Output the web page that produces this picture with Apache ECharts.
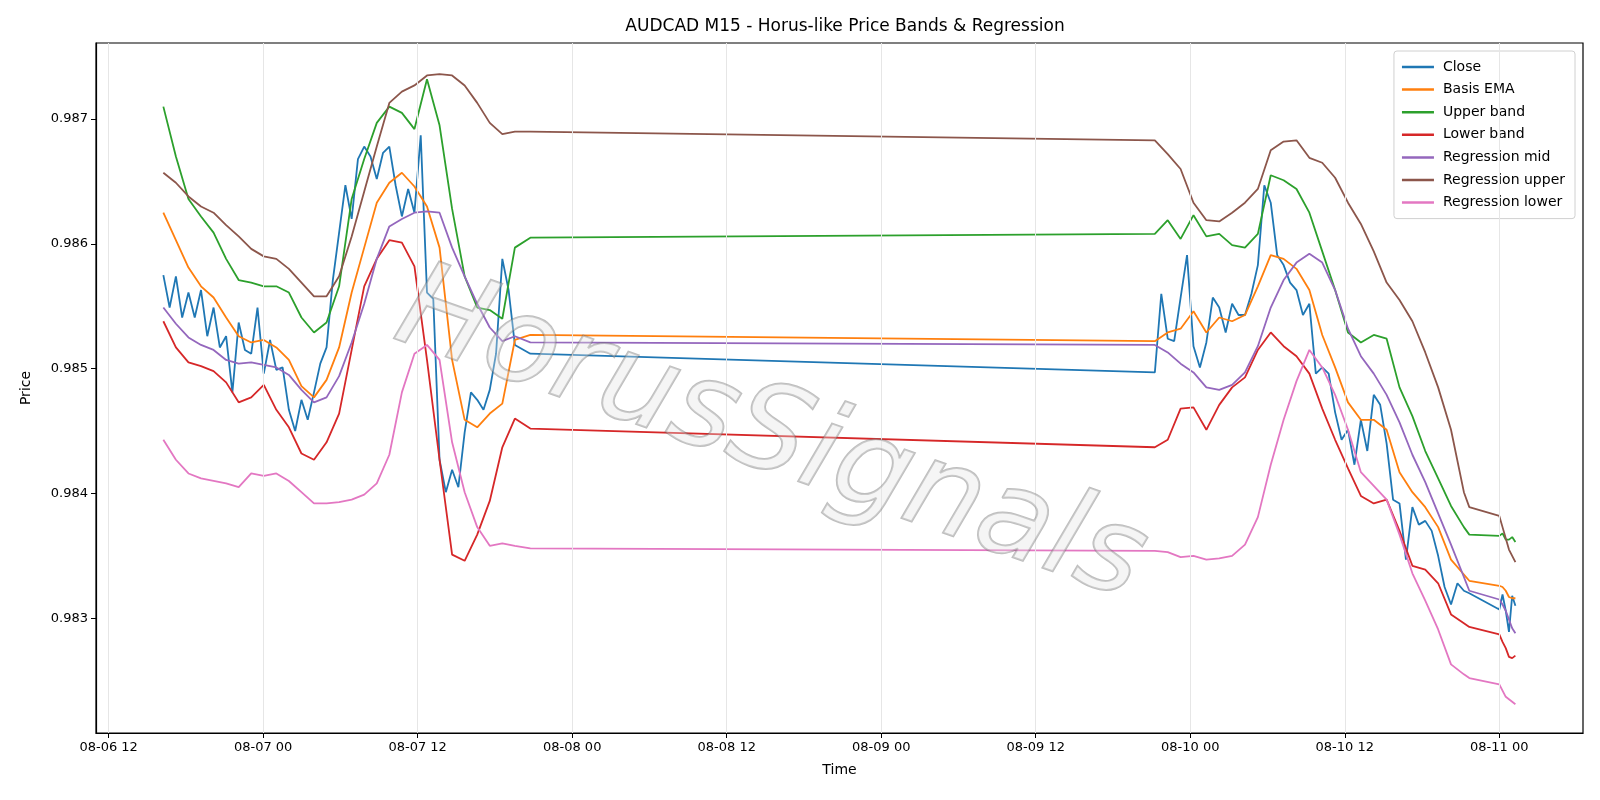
<!DOCTYPE html>
<html><head><meta charset="utf-8">
<script src="https://cdn.jsdelivr.net/npm/echarts@6/dist/echarts.min.js"></script>
<style>html,body{margin:0;padding:0;background:#fff}#c{width:1600px;height:800px}</style>
</head><body><div id="c"></div>
<script>
// Times are hours since 08-06 00:00
const seriesNames = ['Close','Basis EMA','Upper band','Lower band','Regression mid','Regression upper','Regression lower'];
const xTickHours = [12,24,36,48,60,72,84,96,108,120];
const yTicks = [0.983,0.984,0.985,0.986,0.987];

// segment 1 (08-06 16:15 -> 08-07 20:45), bands sampled ~hourly, last value at 20:45
const upper1 = [0.98710,0.98670,0.98636,0.98622,0.98609,0.98588,0.98571,0.98569,0.98566,0.98566,0.98561,0.98541,0.98529,0.98537,0.98566,0.98636,0.98668,0.98697,0.98710,0.98705,0.98692,0.98732,0.98695,0.98628,0.98574,0.98549,0.98547,0.98540,0.98597,0.98605];
const regUpper1 = [0.98657,0.98649,0.98638,0.98630,0.98625,0.98615,0.98606,0.98596,0.98590,0.98588,0.98580,0.98569,0.98558,0.98558,0.98574,0.98606,0.98642,0.98678,0.98713,0.98722,0.98727,0.98735,0.98736,0.98735,0.98727,0.98713,0.98697,0.98688,0.98690,0.98690];
const ema1 = [0.98625,0.98603,0.98581,0.98566,0.98557,0.98541,0.98526,0.98521,0.98523,0.98517,0.98507,0.98486,0.98477,0.98491,0.98517,0.98561,0.98597,0.98633,0.98649,0.98657,0.98646,0.98630,0.98597,0.98507,0.98459,0.98453,0.98464,0.98472,0.98523,0.98527];
const lower1 = [0.98538,0.98517,0.98505,0.98502,0.98498,0.98489,0.98473,0.98477,0.98487,0.98467,0.98453,0.98432,0.98427,0.98441,0.98464,0.98515,0.98566,0.98588,0.98603,0.98601,0.98582,0.98507,0.98427,0.98351,0.98346,0.98367,0.98394,0.98437,0.98460,0.98452];
const regMid1 = [0.98549,0.98536,0.98525,0.98519,0.98515,0.98507,0.98504,0.98505,0.98503,0.98501,0.98495,0.98483,0.98473,0.98477,0.98494,0.98521,0.98552,0.98588,0.98614,0.98620,0.98625,0.98626,0.98625,0.98597,0.98574,0.98552,0.98533,0.98522,0.98526,0.98521];
const regLower1 = [0.98443,0.98427,0.98416,0.98412,0.98410,0.98408,0.98405,0.98416,0.98414,0.98416,0.98410,0.98401,0.98392,0.98392,0.98393,0.98395,0.98399,0.98408,0.98431,0.98481,0.98512,0.98519,0.98507,0.98441,0.98401,0.98373,0.98358,0.98360,0.98358,0.98356];
const close1 = [0.98575,0.98549,0.98574,0.98541,0.98561,0.98541,0.98563,0.98526,0.98549,0.98517,0.98526,0.98481,0.98537,0.98515,0.98512,0.98549,0.98496,0.98523,0.98499,0.98501,0.98467,0.98450,0.98475,0.98459,0.98481,0.98504,0.98517,0.98571,0.98609,0.98647,0.98620,0.98668,0.98678,0.98670,0.98652,0.98673,0.98678,0.98647,0.98622,0.98644,0.98625,0.98687,0.98561,0.98556,0.98427,0.98401,0.98419,0.98405,0.98449,0.98481,0.98475,0.98467,0.98483,0.98512,0.98588,0.98563,0.98519,0.98512];

// segment 2 (08-09 21:15 -> 08-10 21:40)
const regUpper2 = [0.98683,0.98672,0.98660,0.98633,0.98619,0.98618,0.98625,0.98633,0.98644,0.98675,0.98682,0.98683,0.98669,0.98665,0.98653,0.98633,0.98616,0.98594,0.98569,0.98555,0.98538,0.98513,0.98485,0.98451,0.98401,0.98389];
const upper2 = [0.98608,0.98619,0.98604,0.98623,0.98606,0.98608,0.98599,0.98597,0.98608,0.98655,0.98651,0.98644,0.98625,0.98594,0.98563,0.98529,0.98521,0.98527,0.98524,0.98485,0.98462,0.98434,0.98412,0.98390,0.98373,0.98367];
const ema2 = [0.98522,0.98529,0.98532,0.98546,0.98529,0.98541,0.98538,0.98543,0.98566,0.98591,0.98588,0.98580,0.98563,0.98527,0.98501,0.98473,0.98459,0.98459,0.98451,0.98417,0.98401,0.98389,0.98373,0.98347,0.98335,0.98330];
const regMid2 = [0.98519,0.98513,0.98504,0.98497,0.98485,0.98483,0.98487,0.98497,0.98518,0.98549,0.98571,0.98585,0.98592,0.98585,0.98563,0.98532,0.98510,0.98496,0.98479,0.98457,0.98431,0.98409,0.98384,0.98359,0.98333,0.98322];
const lower2 = [0.98437,0.98443,0.98468,0.98469,0.98451,0.98471,0.98485,0.98493,0.98515,0.98529,0.98518,0.98510,0.98496,0.98468,0.98443,0.98420,0.98398,0.98392,0.98395,0.98370,0.98342,0.98339,0.98328,0.98303,0.98296,0.98293];
const regLower2 = [0.98354,0.98353,0.98349,0.98350,0.98347,0.98348,0.98350,0.98359,0.98381,0.98423,0.98459,0.98490,0.98515,0.98501,0.98479,0.98451,0.98417,0.98406,0.98395,0.98367,0.98336,0.98314,0.98291,0.98263,0.98255,0.98252];
const close2 = [0.98497,0.98560,0.98524,0.98522,0.98557,0.98591,0.98518,0.98501,0.98521,0.98557,0.98549,0.98529,0.98552,0.98543,0.98543,0.98560,0.98583,0.98647,0.98633,0.98591,0.98583,0.98569,0.98563,0.98543,0.98552,0.98496,0.98501,0.98496,0.98465,0.98443,0.98451,0.98423,0.98459,0.98434,0.98479,0.98471,0.98440,0.98395,0.98392,0.98347,0.98389,0.98375,0.98378,0.98370,0.98350,0.98325,0.98311,0.98328,0.98322,0.98320];

// segment 3 (08-11 00:00 -> 01:15, every 15 min)
const regUpper3 = [0.98382,0.98373,0.98364,0.98355,0.98350,0.98345];
const upper3 = [0.98366,0.98368,0.98363,0.98363,0.98365,0.98361];
const ema3 = [0.98326,0.98325,0.98322,0.98317,0.98316,0.98316];
const regMid3 = [0.98315,0.98311,0.98306,0.98299,0.98292,0.98288];
const close3 = [0.98307,0.98319,0.98306,0.98289,0.98318,0.98310];
const lower3 = [0.98287,0.98281,0.98276,0.98269,0.98268,0.98270];
const regLower3 = [0.98247,0.98242,0.98237,0.98235,0.98233,0.98231];

function hours(start, step, n, end){const a=[];for(let k=0;k<n;k++)a.push(start+k*step);if(end!==undefined)a.push(end);return a;}
const tBand1 = hours(16.25, 0.975, 29, 44.75);
const tClose1 = hours(16.25, 0.4875, 57, 44.75);
const tBand2 = hours(93.25, 1, 25, 117.67);
const tClose2 = hours(93.25, 0.5, 49, 117.67);
const t3 = hours(120, 0.25, 6);
function zip(ts, vs){return vs.map((v,i)=>[ts[i],v]);}
function build(band, a1,a2,a3){return zip(band?tBand1:tClose1,a1).concat(zip(band?tBand2:tClose2,a2)).concat(zip(t3,a3));}

const colors = ['#1f77b4','#ff7f0e','#2ca02c','#d62728','#9467bd','#8c564b','#e377c2'];
const datasets = [
  build(false, close1, close2, close3),
  build(true, ema1, ema2, ema3),
  build(true, upper1, upper2, upper3),
  build(true, lower1, lower2, lower3),
  build(true, regMid1, regMid2, regMid3),
  build(true, regUpper1, regUpper2, regUpper3),
  build(true, regLower1, regLower2, regLower3)
];
function fmtX(h){const d=6+Math.floor(h/24);const hr=h%24;return '08-'+String(d).padStart(2,'0')+' '+String(hr).padStart(2,'0');}

const font = 'DejaVu Sans';
const series = datasets.map((d,i)=>({
  name: seriesNames[i], type:'line', data:d, showSymbol:false, z:3,
  lineStyle:{width:1.8,color:colors[i]}, itemStyle:{color:colors[i]}, animation:false
}));
series.unshift({
  type:'line', data:[], z:1, silent:true, animation:false,
  markLine:{silent:true, symbol:'none', animation:false, label:{show:false},
    lineStyle:{color:'#e6e6e6', width:1, type:'solid'},
    data: xTickHours.map(h=>({xAxis:h})).concat(yTicks.map(v=>({yAxis:v})))}
});

const chart = echarts.init(document.getElementById('c'));
chart.setOption({
  backgroundColor:'#fff',
  animation:false,
  title:{text:'AUDCAD M15 - Horus-like Price Bands & Regression', left:840, top:13, textAlign:'center',
    textStyle:{fontFamily:font, fontSize:17, fontWeight:'normal', color:'#000'}},
  grid:{left:96, right:17, top:43, bottom:67, show:true, borderColor:'#000', borderWidth:1.2, backgroundColor:'transparent'},
  legend:{data:seriesNames, orient:'vertical', right:25, top:51, icon:'rect', itemWidth:32, itemHeight:2.5, itemGap:8.6,
    padding:[9,10,9,8], borderColor:'#d0d0d0', borderWidth:1, borderRadius:3, backgroundColor:'rgba(255,255,255,0.8)',
    textStyle:{fontFamily:font, fontSize:14, color:'#000', padding:[0,0,0,4]}},
  xAxis:{type:'value', min:11.02, max:126.5, name:'Time', nameLocation:'middle', nameGap:30,
    nameTextStyle:{fontFamily:font, fontSize:14, color:'#000'},
    axisLine:{lineStyle:{color:'#000', width:1.2}},
    axisTick:{show:true, length:5, lineStyle:{color:'#000'}, customValues:xTickHours},
    axisLabel:{customValues:xTickHours, formatter:fmtX, fontFamily:font, fontSize:13, color:'#000', margin:8},
    splitLine:{show:false}},
  yAxis:{type:'value', min:0.98208, max:0.98761, name:'Price', nameLocation:'middle', nameGap:63,
    nameTextStyle:{fontFamily:font, fontSize:14, color:'#000'},
    axisLine:{show:true, lineStyle:{color:'#000', width:1.2}},
    axisTick:{show:true, length:5, lineStyle:{color:'#000'}, customValues:yTicks},
    axisLabel:{customValues:yTicks, formatter:v=>v.toFixed(3), fontFamily:font, fontSize:13, color:'#000', margin:8},
    splitLine:{show:false}},
  graphic:[{type:'text', left:380, top:250, rotation:-0.34, z:100, silent:true,
    style:{text:'HorusSignals', font:'italic 120px "DejaVu Sans"', fill:'rgba(225,225,225,0.35)', stroke:'rgba(110,110,110,0.45)', lineWidth:2}}],
  series:series
});
</script></body></html>
